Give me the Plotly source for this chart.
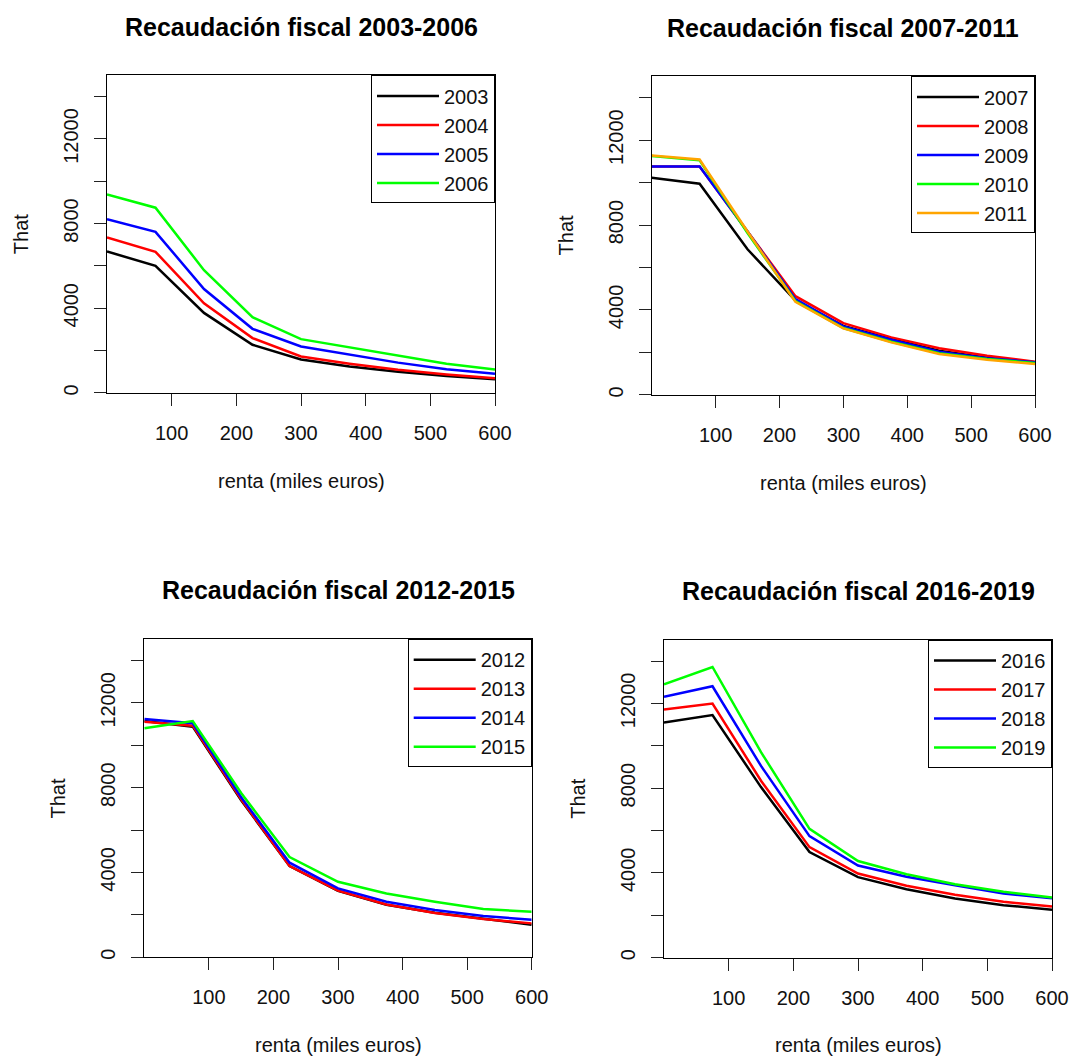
import plotly.graph_objects as go

# ---------------- data ----------------
renta = [0, 75, 150, 225, 300, 375, 450, 525, 600]

years_p1 = ["2003", "2004", "2005", "2006"]
that_2003 = [6682, 6008, 3780, 2275, 1580, 1250, 1000, 800, 640]
that_2004 = [7341, 6667, 4235, 2588, 1720, 1380, 1090, 870, 690]
that_2005 = [8204, 7608, 4910, 3027, 2190, 1800, 1430, 1120, 900]
that_2006 = [9380, 8753, 5800, 3576, 2540, 2150, 1750, 1380, 1100]

years_p2 = ["2007", "2008", "2009", "2010", "2011"]
that_2007 = [10228, 9946, 6860, 4450, 3250, 2630, 2083, 1755, 1535]
that_2008 = [10760, 10760, 7700, 4650, 3383, 2709, 2193, 1848, 1566]
that_2009 = [10762, 10762, 7700, 4510, 3227, 2600, 2036, 1723, 1535]
that_2010 = [11250, 11050, 7620, 4420, 3150, 2500, 1960, 1692, 1503]
that_2011 = [11275, 11087, 7700, 4383, 3133, 2474, 1926, 1660, 1456]

years_p3 = ["2012", "2013", "2014", "2015"]
that_2012 = [11142, 10876, 7400, 4304, 3130, 2480, 2100, 1820, 1537]
that_2013 = [11111, 10923, 7450, 4304, 3150, 2490, 2084, 1803, 1599]
that_2014 = [11237, 11033, 7550, 4460, 3250, 2618, 2225, 1944, 1772]
that_2015 = [10798, 11142, 7750, 4726, 3560, 3009, 2618, 2272, 2148]

years_p4 = ["2016", "2017", "2018", "2019"]
that_2016 = [11104, 11449, 8050, 4980, 3800, 3230, 2792, 2476, 2260]
that_2017 = [11715, 11997, 8350, 5215, 3970, 3390, 2966, 2636, 2415]
that_2018 = [12310, 12811, 9050, 5732, 4350, 3813, 3418, 3027, 2800]
that_2019 = [12905, 13720, 9700, 6077, 4560, 3936, 3465, 3107, 2839]

titles = ["Recaudación fiscal 2003-2006", "Recaudación fiscal 2007-2011",
          "Recaudación fiscal 2012-2015", "Recaudación fiscal 2016-2019"]
x_label = "renta (miles euros)"
y_label = "That"

x_tickvals = [100, 200, 300, 400, 500, 600]
x_ticktext = ["100", "200", "300", "400", "500", "600"]
y_tickvals = [0, 2000, 4000, 6000, 8000, 10000, 12000, 14000]
y_ticktext = ["0", "", "4000", "", "8000", "", "12000", ""]

colors4 = ["black", "red", "blue", "#00ff00"]
colors5 = ["black", "red", "blue", "#00ff00", "orange"]

panels = [
    (years_p1, [that_2003, that_2004, that_2005, that_2006], colors4),
    (years_p2, [that_2007, that_2008, that_2009, that_2010, that_2011], colors5),
    (years_p3, [that_2012, that_2013, that_2014, that_2015], colors4),
    (years_p4, [that_2016, that_2017, that_2018, that_2019], colors4),
]

# ---------------- layout geometry (pixels) ----------------
W, H = 1069, 1060
WX = 1052  # effective horizontal extent of the rendered page (scrollbar)
boxes = [  # left, right, top, bottom
    (107, 495, 75.7, 394),
    (651.7, 1035, 76.7, 396),
    (144.3, 531.7, 641, 960),
    (664, 1052.3, 641.7, 960.3),
]

FONT = "Liberation Sans, Arial, sans-serif"

fig = go.Figure()
layout = dict(
    width=W, height=H, margin=dict(l=0, r=0, t=0, b=0, pad=0),
    paper_bgcolor="white", plot_bgcolor="white",
    font=dict(family=FONT, size=20, color="black"),
    annotations=[],
)

for i, ((yrs, series, cols), (l, r, t, b)) in enumerate(zip(panels, boxes)):
    n = i + 1
    xa = "x" if n == 1 else f"x{n}"
    ya = "y" if n == 1 else f"y{n}"
    leg = "legend" if n == 1 else f"legend{n}"
    for name, vals, c in zip(yrs, series, cols):
        fig.add_trace(go.Scatter(
            x=renta, y=vals, mode="lines", name=name,
            line=dict(color=c, width=2.5), xaxis=xa, yaxis=ya, legend=leg,
        ))
    axcommon = dict(showgrid=False, zeroline=False, showline=True, mirror=True,
                    linecolor="black", linewidth=1, ticks="outside", ticklen=12,
                    tickwidth=1, tickcolor="#222",
                    tickfont=dict(family=FONT, size=20, color="#111"))
    layout["xaxis" if n == 1 else f"xaxis{n}"] = dict(
        domain=[l / WX, min(r / WX, 1.0)], range=[0, 600], anchor=ya,
        tickmode="array", tickvals=x_tickvals, ticktext=x_ticktext,
        ticklabelstandoff=10, **axcommon)
    layout["yaxis" if n == 1 else f"yaxis{n}"] = dict(
        domain=[1 - b / H, 1 - t / H], range=[0, 15000], anchor=xa,
        tickmode="array", tickvals=y_tickvals, ticktext=y_ticktext,
        tickangle=-90, ticklabelstandoff=8, **axcommon)
    layout[leg] = dict(
        x=min(r / WX, 1.0), y=1 - t / H, xanchor="right", yanchor="top",
        bordercolor="black", borderwidth=1, bgcolor="white",
        font=dict(family=FONT, size=20, color="#111"),
        itemwidth=62, tracegroupgap=0,
    )
    cx = (l + r) / 2
    cy = (t + b) / 2
    layout["annotations"] += [
        dict(text=f"<b>{titles[i]}</b>", x=cx / WX, y=1 - (t - 49) / H,
             xref="paper", yref="paper", showarrow=False, xanchor="center",
             yanchor="middle", font=dict(family=FONT, size=25, color="black")),
        dict(text=x_label, x=cx / WX, y=1 - (b + 88) / H,
             xref="paper", yref="paper", showarrow=False, xanchor="center",
             yanchor="middle", font=dict(family=FONT, size=20, color="#111")),
        dict(text=y_label, x=(l - 86) / WX, y=1 - cy / H, textangle=-90,
             xref="paper", yref="paper", showarrow=False, xanchor="center",
             yanchor="middle", font=dict(family=FONT, size=20, color="#111")),
    ]

fig.update_layout(**layout)
fig.write_html("out.html", config={"responsive": False})
